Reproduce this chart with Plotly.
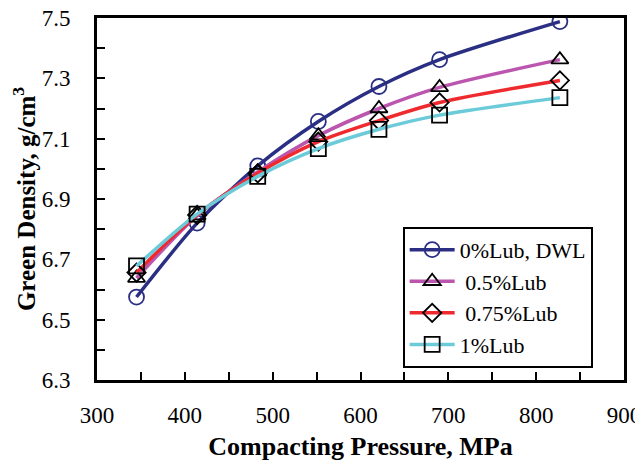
import plotly.graph_objects as go

pressure = [345, 414, 483, 552, 621, 690, 827]
lub0_dwl = [6.575, 6.82, 7.01, 7.157, 7.273, 7.362, 7.488]
lub05 = [6.638, 6.845, 6.99, 7.11, 7.20, 7.27, 7.362]
lub075 = [6.656, 6.847, 6.985, 7.09, 7.16, 7.22, 7.293]
lub1 = [6.678, 6.85, 6.975, 7.067, 7.131, 7.178, 7.236]

names = ["0%Lub, DWL", " 0.5%Lub", " 0.75%Lub", "1%Lub"]
line_colors = ["#2B2F84", "#BB55AE", "#EE2A2E", "#6CCBD9"]
symbols = ["circle", "triangle-up", "diamond", "square"]
marker_edge = ["#2B2F84", "#000000", "#000000", "#000000"]
marker_sizes = [15, 15, 14, 15]
series = [lub0_dwl, lub05, lub075, lub1]

fig = go.Figure()
for nm, ys, lc, sym, me, ms in zip(names, series, line_colors, symbols, marker_edge, marker_sizes):
    fig.add_trace(go.Scatter(
        x=pressure, y=ys, name=nm, mode="lines+markers",
        line=dict(color=lc, width=3.5, shape="spline", smoothing=0.8),
        marker=dict(symbol=sym, size=ms, color="rgba(255,255,255,0)",
                    line=dict(color=me, width=1.8)),
    ))

font = "Liberation Serif, Times New Roman, serif"
# page body has an 8px default margin, so the figure is sized/offset to compensate
fig.update_layout(
    width=635, height=453,
    margin=dict(l=89, r=19, t=10, b=81),
    plot_bgcolor="white", paper_bgcolor="white",
    font=dict(family=font, size=20, color="black"),
    showlegend=True,
    legend=dict(x=0.58, y=0.423, xanchor="left", yanchor="top",
                bordercolor="black", borderwidth=2, bgcolor="white",
                font=dict(family=font, size=22), tracegroupgap=0,
                itemwidth=45),
)
fig.update_xaxes(
    range=[300, 900], dtick=100, tick0=300,
    ticks="inside", ticklen=8, tickwidth=2, tickcolor="black",
    minor=dict(dtick=50, ticks="inside", ticklen=8, tickwidth=2, tickcolor="black"),
    showline=True, linewidth=3, linecolor="black", mirror=True,
    showgrid=False, zeroline=False, automargin=False,
    ticklabelstandoff=12, ticklabeloverflow="allow",
    tickfont=dict(family=font, size=23),
    title=dict(text="<b>Compacting Pressure, MPa</b>", font=dict(family=font, size=26), standoff=20),
)
fig.update_yaxes(
    range=[6.3, 7.5], dtick=0.2, tick0=6.3, tickformat=".1f",
    ticks="inside", ticklen=8, tickwidth=2, tickcolor="black",
    minor=dict(dtick=0.1, ticks="inside", ticklen=8, tickwidth=2, tickcolor="black"),
    showline=True, linewidth=3, linecolor="black", mirror=True,
    showgrid=False, zeroline=False, automargin=False,
    ticklabelstandoff=19, ticklabeloverflow="allow",
    tickfont=dict(family=font, size=23),
    title=dict(text="<b>Green Density, g/cm<sup>3</sup></b>", font=dict(family=font, size=25), standoff=6),
)
fig.write_html("out.html")
